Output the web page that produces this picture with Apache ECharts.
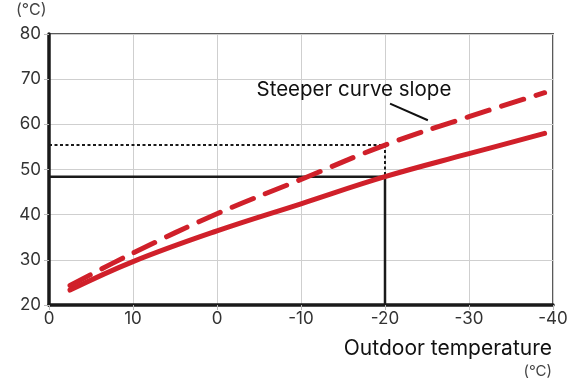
<!DOCTYPE html>
<html><head><meta charset="utf-8">
<script src="https://cdn.jsdelivr.net/npm/echarts@6/dist/echarts.min.js"></script>
<style>html,body{margin:0;padding:0;background:#fff}#c{width:576px;height:385px}</style>
</head><body><div id="c"></div>
<script>
const xTicks = [20, 10, 0, -10, -20, -30, -40];
const xTickLabels = ["0", "10", "0", "-10", "-20", "-30", "-40"];
const yTicks = [20, 30, 40, 50, 60, 70, 80];
const outdoor = [17.5, 10, 0, -10, -20, -30, -39];
const normalCurve = [23.3, 29.6, 36.4, 42.4, 48.4, 53.5, 58.0];
const steeperCurve = [24.3, 31.5, 40.2, 47.8, 55.4, 61.7, 67.0];
const refX = -20;
const refNormal = 48.4;
const refSteep = 55.4;
const annotation = "Steeper curve slope";
const annoPos = [-16.3, 67.6];
const leader = [[-20.6, 64.6], [-25.1, 60.9]];

const FONT = 'Inter';
const chart = echarts.init(document.getElementById('c'));
const pair = (xs, ys) => xs.map((x, i) => [x, ys[i]]);
chart.setOption({
  animation: false,
  textStyle: {fontFamily: FONT},
  grid: {left: 49, right: 23, top: 34, bottom: 80, show: true, borderColor: '#5a5a5a', borderWidth: 2},
  xAxis: {
    type: 'value', inverse: true, min: -40, max: 20, interval: 10,
    axisLine: {show: true, onZero: false, lineStyle: {color: '#1a1a1a', width: 3.5}},
    axisTick: {show: true, length: 5, lineStyle: {color: '#bbb'}},
    axisLabel: {color: '#333', fontSize: 17, margin: 5, fontFamily: FONT,
      formatter: v => xTickLabels[xTicks.indexOf(v)] ?? String(v)},
    splitLine: {show: true, lineStyle: {color: '#cfcfcf', width: 1}}
  },
  yAxis: {
    type: 'value', min: 20, max: 80, interval: 10,
    axisLine: {show: true, onZero: false, lineStyle: {color: '#1a1a1a', width: 3.5}},
    axisTick: {show: true, length: 5, lineStyle: {color: '#bbb'}},
    axisLabel: {color: '#333', fontSize: 17, margin: 8, fontFamily: FONT},
    splitLine: {show: true, lineStyle: {color: '#cfcfcf', width: 1}}
  },
  graphic: [
    {type: 'text', left: 16, top: 2, style: {text: '(°C)', fontSize: 16, fill: '#444', fontFamily: FONT}},
    {type: 'text', right: 24, top: 338, style: {text: 'Outdoor temperature', fontSize: 21, fill: '#111', fontFamily: FONT}},
    {type: 'text', right: 24, top: 364, style: {text: '(°C)', fontSize: 15, fill: '#444', fontFamily: FONT}}
  ],
  series: [
    {type: 'line', data: [[20, refNormal], [refX, refNormal], [refX, 20]], symbol: 'none', z: 3,
      lineStyle: {color: '#1a1a1a', width: 2.5}},
    {type: 'line', data: [[20, refSteep], [refX, refSteep], [refX, refNormal]], symbol: 'none', z: 3,
      lineStyle: {color: '#1a1a1a', width: 2, type: [3, 2.5]}},
    {type: 'line', data: pair(outdoor, normalCurve), smooth: 0.4, symbol: 'none', z: 5,
      lineStyle: {color: '#d0202a', width: 5, cap: 'round'}},
    {type: 'line', data: pair(outdoor, steeperCurve), smooth: 0.4, symbol: 'none', z: 5,
      lineStyle: {color: '#d0202a', width: 5, cap: 'round', type: [23, 13]}},
    {type: 'line', data: leader, symbol: 'none', z: 4, lineStyle: {color: '#111', width: 2}},
    {type: 'scatter', data: [annoPos], symbolSize: 0, z: 6, itemStyle: {opacity: 1},
      label: {show: true, position: 'inside', formatter: annotation, fontSize: 20.5, color: '#111',
        textBorderWidth: 0, fontFamily: FONT}}
  ]
});
</script></body></html>
